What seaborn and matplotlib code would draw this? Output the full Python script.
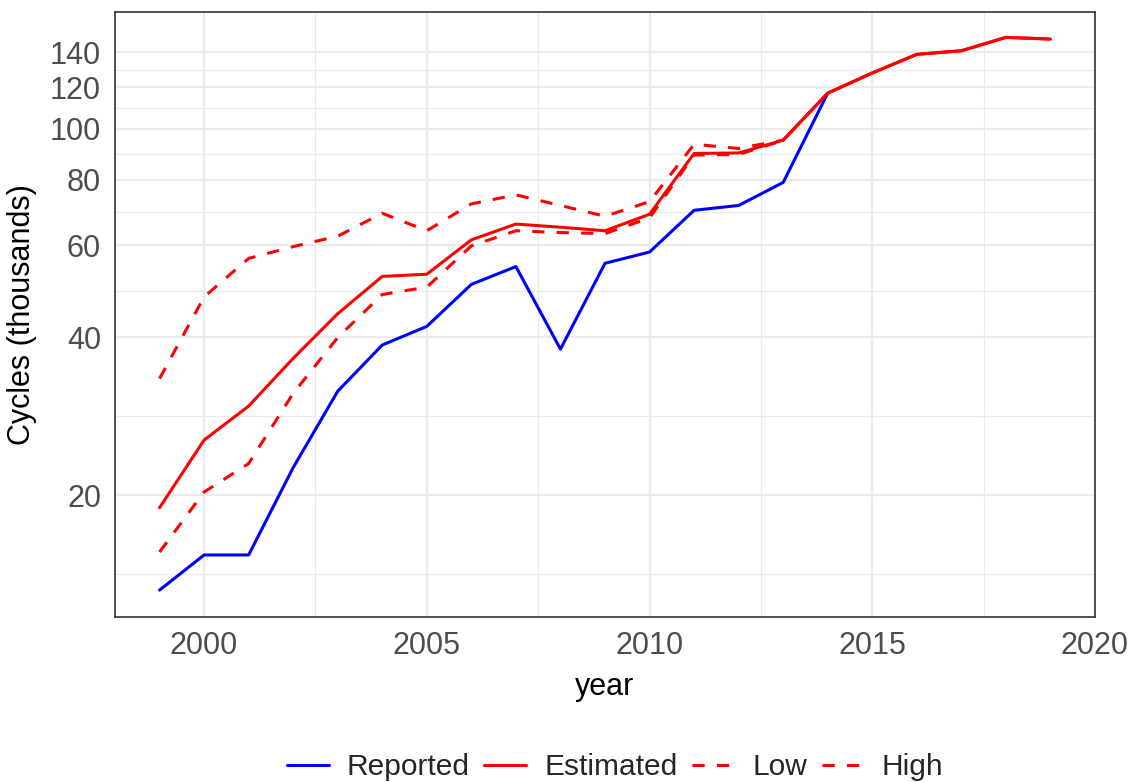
import numpy as np
import pandas as pd
import matplotlib
matplotlib.use("Agg")
import matplotlib.pyplot as plt
import seaborn as sns

years = list(range(1999, 2020))
reported = [13.2, 15.4, 15.4, 22.6, 31.6, 38.7, 42.0, 50.5, 54.6, 38.0, 55.4, 58.2,
            69.9, 71.4, 79.0, 116.9, None, None, None, None, None]
estimated = [18.95, 25.5, 29.6, 36.5, 44.4, 52.3, 52.8, 61.4, 65.8, 64.9, 63.9, 68.7,
             89.7, 89.9, 95.1, 116.9, 127.7, 138.6, 140.8, 149.3, 148.2]
low = [15.6, 20.3, 23.0, 31.3, 40.0, 48.3, 49.9, 59.8, 63.9, 63.4, 63.1, 67.6,
       89.1, 89.3, 95.0, 116.9, 127.7, 138.6, 140.8, 149.3, 148.2]
high = [33.4, 47.8, 56.6, 59.6, 62.4, 69.0, 63.9, 71.9, 74.8, 71.4, 68.1, 72.6,
        93.4, 91.7, 95.1, 116.9, 127.7, 138.6, 140.8, 149.3, 148.2]

series_names = ["Reported", "Estimated", "Low", "High"]
y_ticks = [20, 40, 60, 80, 100, 120, 140]
x_ticks = [2000, 2005, 2010, 2015, 2020]

frames = []
for name, vals in zip(series_names, [reported, estimated, low, high]):
    frames.append(pd.DataFrame({"year": years, "value": vals, "series": name}))
df = pd.concat(frames, ignore_index=True).dropna()

sns.set_theme(style="white")
plt.rcParams["font.family"] = ["Liberation Sans", "DejaVu Sans"]

fig = plt.figure(figsize=(11.34, 7.82), dpi=100)
ax = fig.add_axes([115 / 1134, 1 - 617 / 782, (1095 - 115) / 1134, (617 - 12) / 782])

palette = {"Reported": "#0000FF", "Estimated": "#FF0000", "Low": "#FF0000", "High": "#FF0000"}
dashes = {"Reported": "", "Estimated": "", "Low": (4, 4), "High": (4, 4)}

sns.lineplot(data=df, x="year", y="value", hue="series", style="series",
             hue_order=series_names, style_order=series_names,
             palette=palette, dashes=dashes, linewidth=2.2, ax=ax, estimator=None,
             sort=True)

ax.set_yscale("log")
ax.set_ylim(11.73, 166.9)
ax.set_xlim(1998, 2020)

ax.set_yticks(y_ticks)
ax.set_yticklabels([str(v) for v in y_ticks])
minor_y = [np.sqrt(a * b) for a, b in zip([10] + y_ticks[:-1], y_ticks)]
ax.set_yticks(minor_y, minor=True)
ax.set_yticklabels([], minor=True)
ax.set_xticks(x_ticks)
ax.set_xticklabels([str(v) for v in x_ticks])
ax.set_xticks([2002.5, 2007.5, 2012.5, 2017.5], minor=True)

ax.grid(True, which="major", color="#EBEBEB", linewidth=1.6)
ax.grid(True, which="minor", color="#EBEBEB", linewidth=0.8)
ax.set_axisbelow(True)

ax.tick_params(axis="both", which="major", length=6, width=1.3, color="#333333",
               labelsize=22, labelcolor="#4D4D4D", pad=4)
ax.tick_params(axis="both", which="minor", length=0)

for sp in ax.spines.values():
    sp.set_color("#333333")
    sp.set_linewidth(1.2)

ax.set_xlabel("year", fontsize=22, color="black", labelpad=8)
ax.set_ylabel("Cycles (thousands)", fontsize=22, color="black", labelpad=9)

handles, labels = ax.get_legend_handles_labels()
ax.get_legend().remove()
leg = fig.legend(handles, labels, loc="center", ncol=4, frameon=False,
                 bbox_to_anchor=(615 / 1134, 1 - 767 / 782), fontsize=21.5,
                 handlelength=1.4, handletextpad=0.6, columnspacing=0.5)
for line in leg.get_lines():
    line.set_linewidth(2.2)

fig.savefig("out.png", dpi=100)
